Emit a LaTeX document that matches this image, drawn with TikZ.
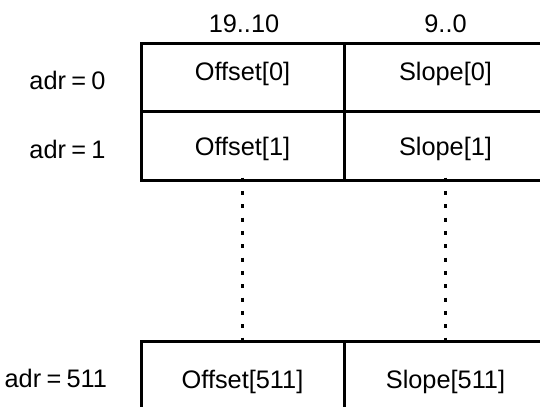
\documentclass[tikz,border=0pt]{standalone}
\usepackage{fontspec}
\setmainfont{Liberation Sans}[WordSpace=0.75]
\tikzset{every picture/.style={line width=0.75pt}}
\tikzset{
  cell/.style={draw, line width=2.25pt, minimum width=203*0.75pt, minimum height=68.4*0.75pt, inner sep=0pt, font=\fontsize{19}{23}\selectfont},
  up/.style={text depth=10pt},
  down/.style={text height=18.3pt},
  lbl/.style={inner sep=0.75pt, font=\fontsize{19}{23}\selectfont},
  gap/.style={line width=2.5pt, dash pattern={on 3pt off 7pt}}
}
\begin{document}
\begin{tikzpicture}[x=0.75pt,y=0.75pt,yscale=-1,xscale=1]
\useasboundingbox (0,0) rectangle (540,407);
\clip (0,0) rectangle (540,407);

% Bit ranges
\node [lbl] (hdrhi) at (244,24) {19..10};
\node [lbl] (hdrlo) at (445.5,24) {9..0};

% Row 0
\node [cell, up] (off0) at (242.5,77.5) {Offset[0]};
\node [cell, up] (slp0) at (445.5,77.5) {Slope[0]};
% Row 1
\node [cell, down] (off1) at (242.5,145.9) {Offset[1]};
\node [cell, down] (slp1) at (445.5,145.9) {Slope[1]};
% Row 511
\node [cell, minimum height=80*0.75pt] (off511) at (242.5,381.7) {Offset[511]};
\node [cell, minimum height=80*0.75pt] (slp511) at (445.5,381.7) {Slope[511]};

% Addresses
\node [lbl, anchor=east] (adr0) at (107,80) {adr = 0};
\node [lbl, anchor=east] (adr1) at (107,149) {adr = 1};
\node [lbl, anchor=east] (adr511) at (108.5,378.8) {adr = 511};

% Skipped rows
\draw [gap] ([yshift=-3pt]off1.south) -- (off511.north);
\draw [gap] ([yshift=-3pt]slp1.south) -- (slp511.north);

\end{tikzpicture}
\end{document}
